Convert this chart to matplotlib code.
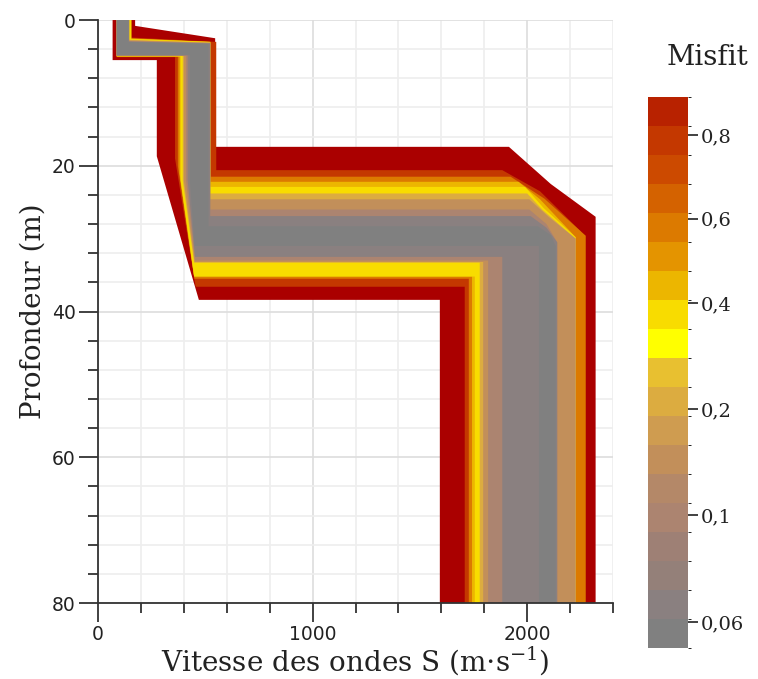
import numpy as np
import matplotlib
matplotlib.use("Agg")
import matplotlib.pyplot as plt
from matplotlib.colors import ListedColormap, BoundaryNorm
from matplotlib.cm import ScalarMappable
from matplotlib.ticker import MultipleLocator

# misfit classes, worst first (drawn first, best on top)
misfit = [0.95, 0.79, 0.58, 0.44, 0.38, 0.21, 0.145, 0.10, 0.065, 0.055]

# layer 1 (surface)
vs1_min = [68, 87, 87, 87, 87, 87, 87, 87, 87, 87]
vs1_max = [173, 155, 155, 155, 155, 145, 145, 145, 145, 141]
h1_min = [0.8, 2.4, 2.5, 2.55, 2.6, 2.7, 2.8, 2.9, 2.95, 3.0]
h1_max = [5.5, 5.1, 5.0, 5.0, 5.0, 4.9, 4.9, 4.9, 4.85, 4.8]
h1_corner = [2.5, 3.0, 3.0, 3.0, 3.0, 3.1, 3.1, 3.2, 3.2, 3.3]

# layer 2
vs2_min_top = [274, 359, 372, 380, 385, 395, 400, 410, 418, 428]
knee = [18.7, 19.0, 20.0, 21.0, 22.0, 22.0, 22.0, 22.0, 22.0, 22.0]
vs2_min_bot = [470, 455, 449, 448, 448, 448, 450, 452, 452, 450]
vs2_max = [546, 551, 525, 523, 523, 523, 522, 523, 523, 515]
h2_min = [17.4, 20.6, 21.5, 22.2, 22.9, 23.8, 24.6, 26.0, 26.9, 28.3]
h2_max = [38.4, 36.6, 35.5, 35.2, 35.2, 33.3, 33.2, 33.0, 32.5, 31.0]

# layer 3 (half space)
vs3_min = [1593, 1709, 1728, 1743, 1756, 1779, 1795, 1818, 1884, 2055]
vs3_top = [1915, 1884, 1923, 1960, 1990, 2000, 2010, 2010, 2016, 2050]
vs3_mid = [2110, 2060, 2080, 2060, 2077, 2070, 2100, 2090, 2090, 2110]
h3_mid = [22.5, 23.5, 24.5, 24.6, 25.8, 26.0, 27.0, 28.0, 28.5, 29.5]
vs3_max = [2319, 2250, 2273, 2226, 2226, 2226, 2226, 2140, 2140, 2133]
h3_corner = [27.0, 29.0, 29.6, 29.8, 29.8, 30.0, 30.0, 30.5, 30.5, 31.0]

zmax = 80

# palette
bounds = [0.051, 0.061, 0.071, 0.082, 0.092, 0.106, 0.133, 0.161, 0.189, 0.234,
          0.291, 0.349, 0.407, 0.476, 0.545, 0.614, 0.684, 0.753, 0.823, 0.893]
colors = ['#808080', '#8a8080', '#948079', '#9e8075', '#ac8470', '#b48868',
          '#c28f5a', '#cf9c50', '#dcac40', '#e8c030', '#ffff00', '#f8dc00',
          '#ecb600', '#e49400', '#dc7a00', '#d46200', '#cc4a00', '#c43800', '#b82200']
cb_ticks = [0.06, 0.1, 0.2, 0.4, 0.6, 0.8]
cb_labels = ['0,06', '0,1', '0,2', '0,4', '0,6', '0,8']

cmap = ListedColormap(colors)
cmap.set_over('#aa0000')
norm = BoundaryNorm(bounds, cmap.N)

plt.rcParams['mathtext.fontset'] = 'dejavuserif'

fig = plt.figure(figsize=(7.58, 6.79), dpi=100)
ax = fig.add_axes([0.1293, 0.1119, 0.6794, 0.8586])

for i in range(len(misfit)):
    xs = [vs1_min[i], vs1_min[i], vs2_min_top[i], vs2_min_top[i], vs2_min_bot[i],
          vs3_min[i], vs3_min[i],
          vs3_max[i], vs3_max[i], vs3_mid[i], vs3_top[i], vs2_max[i], vs2_max[i],
          vs1_max[i], vs1_max[i]]
    zs = [0, h1_max[i], h1_max[i], knee[i], h2_max[i],
          h2_max[i], zmax,
          zmax, h3_corner[i], h3_mid[i], h2_min[i], h2_min[i], h1_corner[i],
          h1_min[i], 0]
    ax.fill(xs, zs, color=cmap(norm(misfit[i])), lw=0, zorder=2)

ax.set_xlim(0, 2400)
ax.set_ylim(80, 0)
ax.xaxis.set_major_locator(MultipleLocator(1000))
ax.xaxis.set_minor_locator(MultipleLocator(200))
ax.yaxis.set_major_locator(MultipleLocator(20))
ax.yaxis.set_minor_locator(MultipleLocator(4))
ax.grid(which='minor', color='#eeeeee', lw=1.2, zorder=0)
ax.grid(which='major', color='#dddddd', lw=1.2, zorder=0)
ax.set_axisbelow(True)
for s in ['top', 'right']:
    ax.spines[s].set_visible(False)
for s in ['left', 'bottom']:
    ax.spines[s].set_color('#333333')
    ax.spines[s].set_linewidth(1.3)
ax.tick_params(which='major', length=14, width=1.3, color='#333333',
               labelsize=13.5, labelcolor='#222222', pad=2)
ax.tick_params(which='minor', length=7, width=1.3, color='#333333')
for lab in ax.get_xticklabels() + ax.get_yticklabels():
    lab.set_fontfamily('DejaVu Sans')

ax.set_xlabel('Vitesse des ondes S (m$\\cdot$s$^{\\mathregular{-1}}$)',
              family='DejaVu Serif', fontsize=20, color='#222222', labelpad=0)
ax.set_ylabel('Profondeur (m)', family='DejaVu Serif', fontsize=20,
              color='#222222', labelpad=4)

cax = fig.add_axes([0.855, 0.0457, 0.0528, 0.8115])
cb = fig.colorbar(ScalarMappable(norm=norm, cmap=cmap), cax=cax,
                  spacing='uniform', ticks=cb_ticks)
cb.outline.set_visible(False)
cb.set_ticklabels(cb_labels)
cax.tick_params(length=7, width=1.3, color='#333333', labelsize=14,
                labelcolor='#222222', pad=2)
for lab in cax.get_yticklabels():
    lab.set_fontfamily('DejaVu Serif')
fig.text(0.933, 0.915, 'Misfit', family='DejaVu Serif', fontsize=20,
         color='#222222', ha='center', va='center')

fig.savefig('out.png', dpi=100)
